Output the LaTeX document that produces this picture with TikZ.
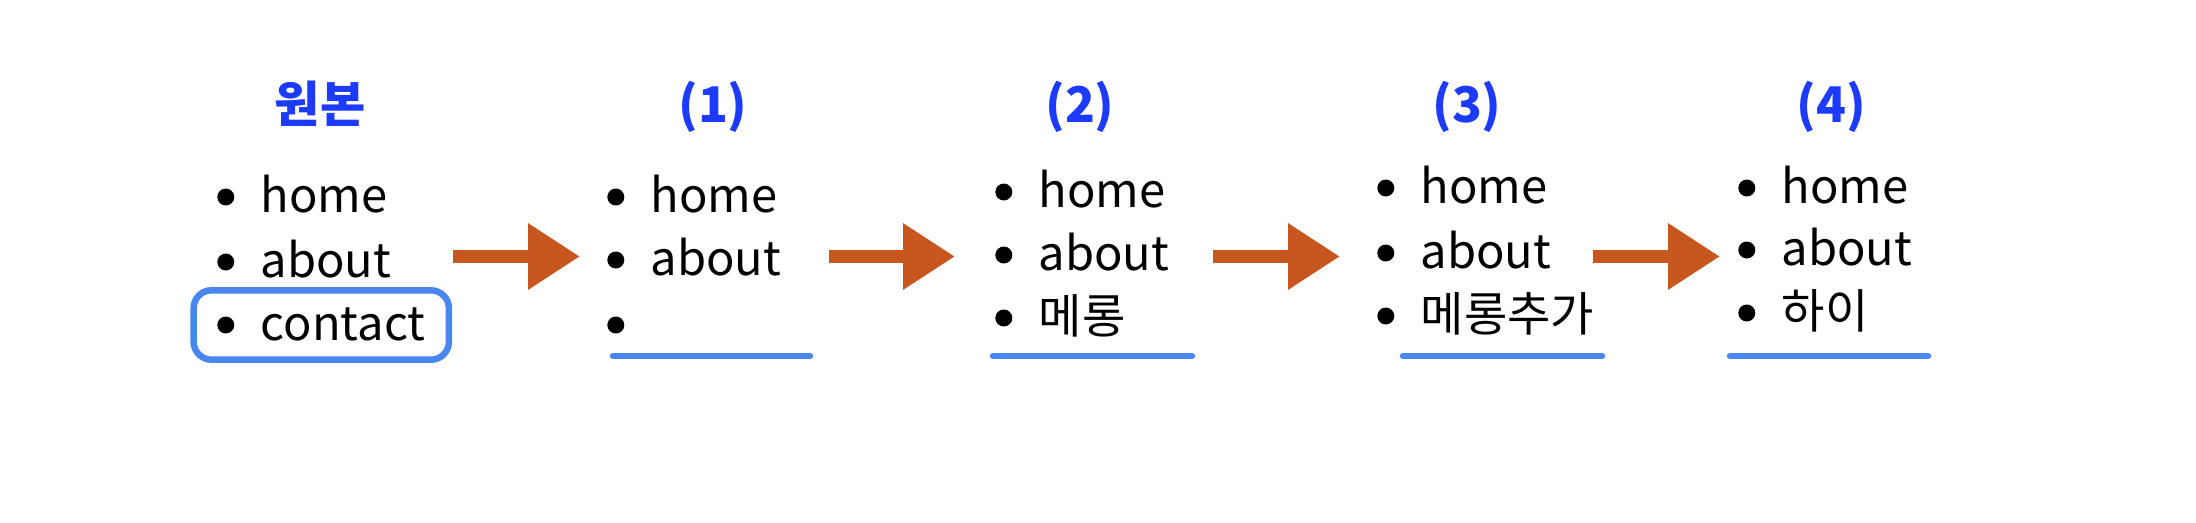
\documentclass[tikz,border=0pt]{standalone}
\usepackage{fontspec}
\setmainfont{Noto Sans CJK KR}
\usetikzlibrary{positioning, arrows.meta, fit}
\definecolor{stepblue}{HTML}{1C3BFF}
\definecolor{penblue}{HTML}{4A86F0}
\definecolor{penorange}{HTML}{C7561F}

\begin{document}
\begin{tikzpicture}[
    every node/.style={font=\fontsize{13.4pt}{16pt}\selectfont},
    heading/.style={font=\fontsize{14pt}{16pt}\selectfont\bfseries, text=stepblue,
                    anchor=base, inner sep=0pt},
    entry/.style={anchor=base west, inner sep=0pt, text height=0.36cm, text depth=0.06cm},
    bulletdot/.style={circle, fill=black, inner sep=0pt, minimum size=0.17cm},
    flow/.style={draw=penorange, line width=0.13cm,
                 -{Triangle[length=5.2mm, width=6.3mm, fill=penorange]}},
    uline/.style={draw=penblue, line width=0.065cm, line cap=round},
    hilite/.style={draw=penblue, line width=0.065cm, rounded corners=0.18cm,
                   inner xsep=0.23cm, inner ysep=0.13cm},
  ]
  \useasboundingbox (0,0) rectangle (21.96,5.22);

  % headings
  \node[heading] (t0) at (3.20,3.99) {원본};
  \node[heading] (t1) at (7.13,3.99) {(1)};
  \node[heading] (t2) at (10.80,3.99) {(2)};
  \node[heading] (t3) at (14.67,3.99) {(3)};
  \node[heading] (t4) at (18.31,3.99) {(4)};

  % original list
  \node[entry] (c0h) at (2.60,3.10) {home};
  \node[entry] (c0a) at (2.60,2.45) {about};
  \node[entry] (c0c) at (2.60,1.82) {contact};
  \node[bulletdot, left=0.25cm of c0h] (b0h) {};
  \node[bulletdot, left=0.25cm of c0a] (b0a) {};
  \node[bulletdot, left=0.25cm of c0c] (b0c) {};
  \node[hilite, fit=(b0c)(c0c)] (box) {};

  % step 1
  \node[entry] (c1h) at (6.50,3.10) {home};
  \node[entry] (c1a) at (6.50,2.47) {about};
  \node[entry] (c1x) at (6.50,1.82) {};
  \node[bulletdot, left=0.25cm of c1h] (b1h) {};
  \node[bulletdot, left=0.25cm of c1a] (b1a) {};
  \node[bulletdot, left=0.25cm of c1x] (b1x) {};

  % step 2
  \node[entry] (c2h) at (10.38,3.15) {home};
  \node[entry] (c2a) at (10.38,2.52) {about};
  \node[entry] (c2x) at (10.38,1.89) {메롱};
  \node[bulletdot, left=0.25cm of c2h] (b2h) {};
  \node[bulletdot, left=0.25cm of c2a] (b2a) {};
  \node[bulletdot, left=0.25cm of c2x] (b2x) {};

  % step 3
  \node[entry] (c3h) at (14.20,3.19) {home};
  \node[entry] (c3a) at (14.20,2.54) {about};
  \node[entry] (c3x) at (14.20,1.91) {메롱추가};
  \node[bulletdot, left=0.25cm of c3h] (b3h) {};
  \node[bulletdot, left=0.25cm of c3a] (b3a) {};
  \node[bulletdot, left=0.25cm of c3x] (b3x) {};

  % step 4
  \node[entry] (c4h) at (17.81,3.19) {home};
  \node[entry] (c4a) at (17.81,2.57) {about};
  \node[entry] (c4x) at (17.81,1.94) {하이};
  \node[bulletdot, left=0.25cm of c4h] (b4h) {};
  \node[bulletdot, left=0.25cm of c4a] (b4a) {};
  \node[bulletdot, left=0.25cm of c4x] (b4x) {};

  % underlines of the third entry
  \draw[uline] (6.13,1.66) -- (8.10,1.66);
  \draw[uline] (9.93,1.66) -- (11.92,1.66);
  \draw[uline] (14.03,1.66) -- (16.02,1.66);
  \draw[uline] (17.30,1.66) -- (19.28,1.66);

  % arrows between the steps
  \coordinate (a1s) at (4.53,2.655);  \coordinate (a1e) at (5.80,2.655);
  \coordinate (a2s) at (8.29,2.655);  \coordinate (a2e) at (9.55,2.655);
  \coordinate (a3s) at (12.13,2.655); \coordinate (a3e) at (13.40,2.655);
  \coordinate (a4s) at (15.93,2.655); \coordinate (a4e) at (17.20,2.655);
  \draw[flow] (a1s) -- (a1e);
  \draw[flow] (a2s) -- (a2e);
  \draw[flow] (a3s) -- (a3e);
  \draw[flow] (a4s) -- (a4e);
\end{tikzpicture}
\end{document}
